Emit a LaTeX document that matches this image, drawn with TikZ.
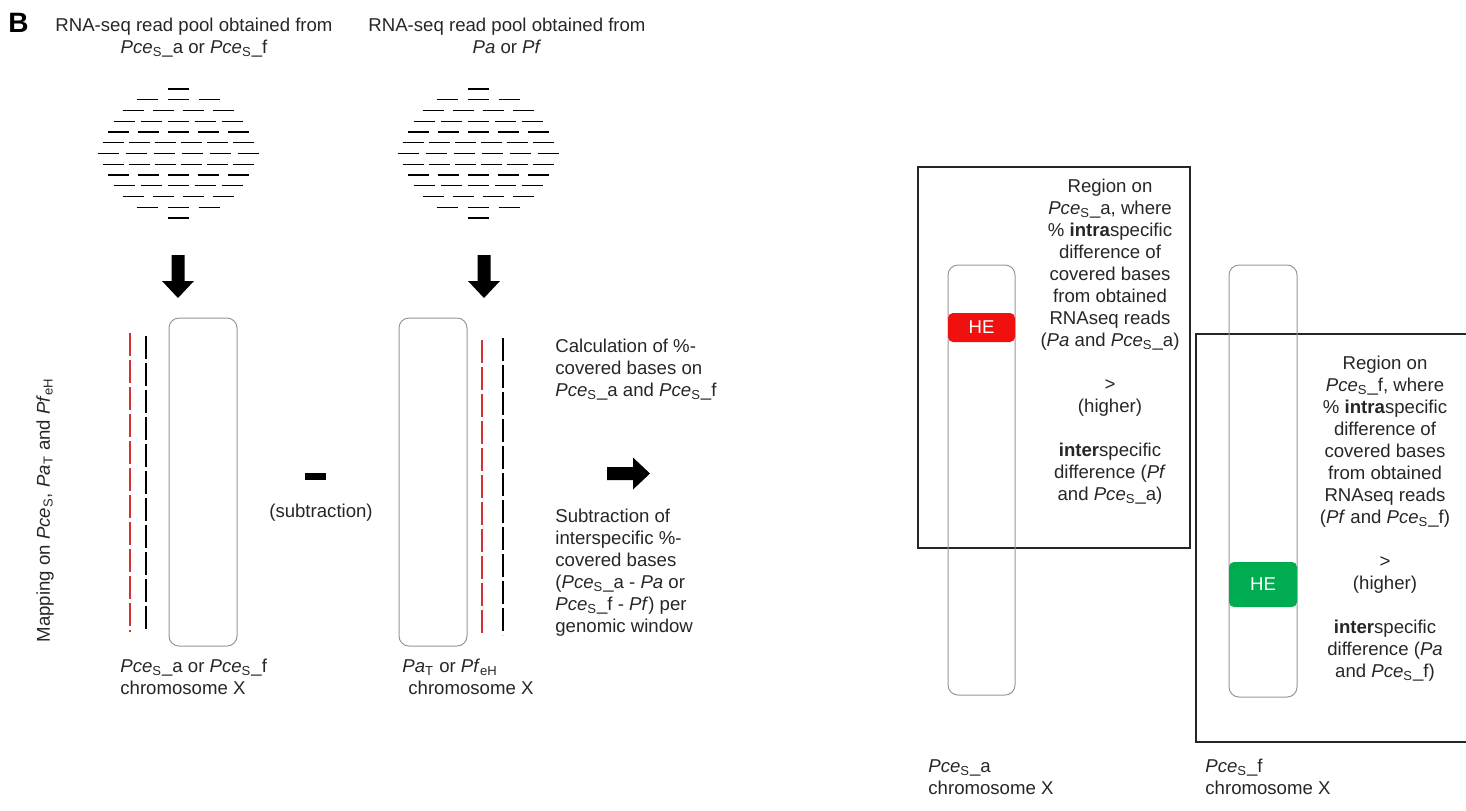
\documentclass[tikz,border=0pt]{standalone}
\usepackage{fontspec}
\setmainfont{Liberation Sans}
\usetikzlibrary{positioning}
\definecolor{readred}{RGB}{208,52,52}
\definecolor{hered}{RGB}{240,16,16}
\definecolor{hegreen}{RGB}{0,172,80}
\definecolor{chromgray}{RGB}{150,150,150}
\newcommand{\pce}{\textit{Pce}\textsubscript{S}}
\newcommand{\pat}{\textit{Pa}\textsubscript{T}}
\newcommand{\pfeh}{\textit{Pf}\textsubscript{eH}}
\tikzset{
  chrom/.style={draw=chromgray, line width=0.5pt, rounded corners=5pt},
  readline/.style={black, line width=0.7pt},
  mapred/.style={readred, line width=0.6pt, dash pattern=on 11.5pt off 2pt},
  mapblack/.style={black, line width=0.6pt, dash pattern=on 11.5pt off 2pt},
  boxline/.style={black!85, line width=0.6pt},
  txt/.style={inner sep=0pt, font=\fontsize{9.3}{11}\selectfont, text=black!85},
  hetxt/.style={inner sep=0pt, font=\fontsize{9.3}{11}\selectfont, text=white},
  pics/fatarrow/.style={code={
    \fill (0,-6.5) -- (26,-6.5) -- (26,-16) -- (43,0) -- (26,16) -- (26,6.5) -- (0,6.5) -- cycle;}}
}

\begin{document}
\begin{tikzpicture}[x=0.5pt, y=-0.5pt]
\useasboundingbox (0,0) rectangle (1466,810);
\node[anchor=north west, inner sep=0pt, font=\fontsize{14}{16}\selectfont\bfseries] (panel) at (8,13) {B};

% read pools
\node[txt, anchor=north, align=center] (poolA) at (194,18) {RNA-seq read pool obtained from\\\pce\_a or \pce\_f};
\node[txt, anchor=north, align=center] (poolB) at (507,18) {RNA-seq read pool obtained from\\\textit{Pa} or \textit{Pf}};
\foreach \cx in {178,478}
  \foreach \k/\n/\p in {0/1/0, 1/3/31, 2/4/30, 3/5/27, 4/5/30, 5/6/26, 6/6/28, 7/6/26, 8/5/30, 9/5/27, 10/4/30, 11/3/31, 12/1/0}
    \foreach \i in {1,...,\n}
      \draw[readline] ({\cx+(\i-(\n+1)/2)*\p-10.5},{89+10.75*\k}) -- ++(21,0);

\pic[rotate=-90] at (178,255) {fatarrow};
\pic[rotate=-90] at (484,255) {fatarrow};

% mapping
\node[txt, rotate=90] (maplabel) at (45,510) {Mapping on \pce, \pat\ and \pfeh};
\draw[mapred] (130,333) -- (130,632);
\draw[mapblack] (146,336) -- (146,632);
\draw[chrom] (169,318) rectangle (237,646);
\node[txt, anchor=north west, align=left] (chrA) at (120,659) {\pce\_a or \pce\_f\\chromosome X};

\fill (305,473) rectangle (326,480);
\node[txt] (subtr) at (321,513) {(subtraction)};

\draw[chrom] (399,318) rectangle (467,646);
\draw[mapred] (482,340) -- (482,635);
\draw[mapblack] (503,338) -- (503,635);
\node[txt, anchor=north west, align=left] (chrB) at (402,659) {\pat\ or \pfeh\\\hspace*{3pt}chromosome X};

\node[txt, anchor=north west, align=left] (calc) at (555,339) {Calculation of \%-\\covered bases on\\\pce\_a and \pce\_f};
\pic at (607,473.5) {fatarrow};
\node[txt, anchor=north west, align=left] (subtxt) at (555,509) {Subtraction of\\interspecific \%-\\covered bases\\(\pce\_a - \textit{Pa} or\\\pce\_f - \textit{Pf}) per\\genomic window};

% highly expressed regions
\draw[boxline] (918,167) rectangle (1190,548);
\draw[boxline] (1466,334) -- (1196,334) -- (1196,742) -- (1466,742);
\draw[chrom] (948,265) rectangle (1015,695);
\draw[chrom] (1229,265) rectangle (1297,697);
\fill[hered, rounded corners=2.5pt] (948,313) rectangle (1015,342);
\node[hetxt] (hea) at (981.5,327.5) {HE};
\fill[hegreen, rounded corners=2.5pt] (1229,562) rectangle (1297,607);
\node[hetxt] (hef) at (1263,584.5) {HE};

\node[txt, anchor=north, align=center] (regA) at (1110,179) {Region on\\\pce\_a, where\\\% \textbf{intra}specific\\difference of\\covered bases\\from obtained\\RNAseq reads\\(\textit{Pa} and \pce\_a)\\[11pt]>\\(higher)\\[11pt]\textbf{inter}specific\\difference (\textit{Pf}\\and \pce\_a)};
\node[txt, anchor=north, align=center] (regF) at (1385,356) {Region on\\\pce\_f, where\\\% \textbf{intra}specific\\difference of\\covered bases\\from obtained\\RNAseq reads\\(\textit{Pf} and \pce\_f)\\[11pt]>\\(higher)\\[11pt]\textbf{inter}specific\\difference (\textit{Pa}\\and \pce\_f)};

\node[txt, anchor=north west, align=left] (lblA) at (928,759) {\pce\_a\\chromosome X};
\node[txt, anchor=north west, align=left] (lblF) at (1205,759) {\pce\_f\\chromosome X};
\end{tikzpicture}
\end{document}
